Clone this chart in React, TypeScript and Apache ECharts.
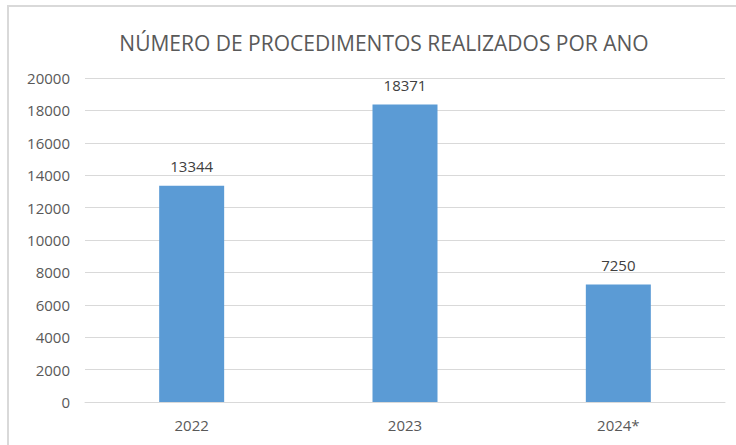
import React, { useEffect, useRef } from "react";
import * as echarts from "echarts";

const title = "NÚMERO DE PROCEDIMENTOS REALIZADOS POR ANO";
const categories = ["2022", "2023", "2024*"];
const values = [13344, 18371, 7250];
const yMin = 0;
const yMax = 20000;
const yInterval = 2000;

export default function App() {
  const ref = useRef<HTMLDivElement>(null);
  useEffect(() => {
    if (!ref.current) return;
    const chart = echarts.init(ref.current, null, { renderer: "svg" });
    const font = "Open Sans, DejaVu Sans, sans-serif";
    chart.setOption({
      animation: false,
      backgroundColor: "#ffffff",
      textStyle: { fontFamily: font },
      title: {
        text: title,
        left: 379,
        textAlign: "center",
        top: 27,
        textStyle: { fontSize: 21, fontWeight: "normal", color: "#595959", fontFamily: font },
      },
      graphic: [
        {
          type: "rect",
          shape: { x: 8, y: 6, width: 760, height: 460 },
          style: { fill: "none", stroke: "#d9d9d9", lineWidth: 2 },
          silent: true,
        },
      ],
      grid: { left: 85, right: 11, top: 78, bottom: 43, containLabel: false },
      xAxis: {
        type: "category",
        data: categories,
        axisLine: { show: true, lineStyle: { color: "#d9d9d9", width: 1 } },
        axisTick: { show: false },
        axisLabel: { color: "#595959", fontSize: 15, margin: 15, fontFamily: font },
      },
      yAxis: {
        type: "value",
        min: yMin,
        max: yMax,
        interval: yInterval,
        axisLine: { show: false },
        axisTick: { show: false },
        splitLine: { lineStyle: { color: "#d9d9d9", width: 1 } },
        axisLabel: {
          color: "#595959",
          fontSize: 15,
          margin: 15,
          fontFamily: font,
          formatter: (v: number) => String(v),
        },
      },
      series: [
        {
          type: "bar",
          data: values,
          barWidth: 65,
          itemStyle: { color: "#5b9bd5" },
          label: {
            show: true,
            position: "top",
            distance: 12,
            color: "#404040",
            fontSize: 15,
            fontFamily: font,
          },
        },
      ],
    });
    return () => chart.dispose();
  }, []);
  return (
    <div
      ref={ref}
      style={{ position: "absolute", left: 0, top: 0, width: 736, height: 445 }}
    />
  );
}
